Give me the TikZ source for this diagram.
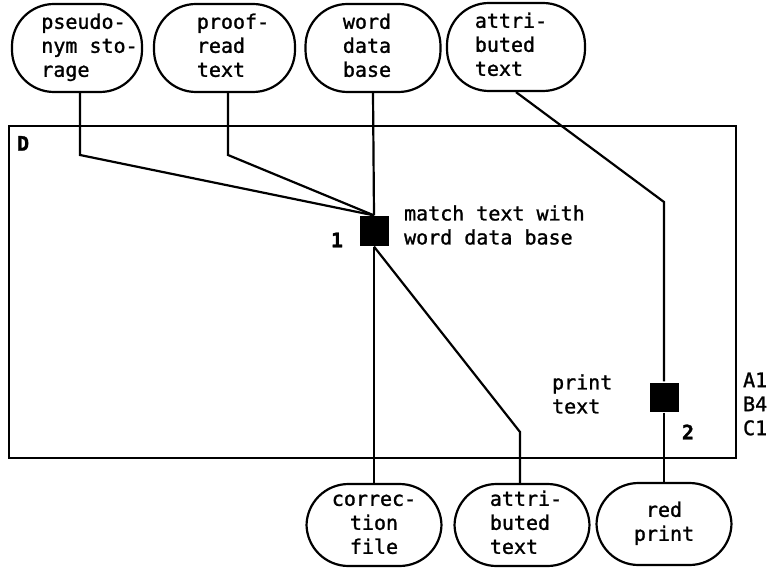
\documentclass[tikz,border=0pt]{standalone}
\usepackage{fontspec}
\setmonofont[FakeBold=1.3]{DejaVu Sans Mono}
\newcommand\stxt[2]{\hspace*{#1}\begin{tabular}{@{}l@{}}#2\end{tabular}}
\newcommand\ctxt[1]{\begin{tabular}{@{}c@{}}#1\end{tabular}}
\begin{document}
\begin{tikzpicture}[x=1bp,y=-1bp,line width=2.2bp,
  every node/.style={font=\ttfamily\fontsize{20bp}{24bp}\selectfont},
  store/.style={draw, rounded corners=42bp, minimum width=135bp, minimum height=88bp, inner sep=0pt},
  proc/.style={fill=black, minimum size=29bp, inner sep=0pt},
  lbl/.style={align=left, anchor=west, inner sep=0pt},
  bold/.style={font=\ttfamily\bfseries\fontsize{20bp}{24bp}\selectfont, inner sep=0pt}]
\useasboundingbox (0,0) rectangle (772,569);
% frame
\node[draw, minimum width=727bp, minimum height=332bp, anchor=north west, inner sep=0pt] (frame) at (8,125) {};
% stores top
\node[store, minimum width=130bp] (pseudo) at (77,48) {\stxt{25bp}{pseudo-\\nym sto-\\rage}};
\node[store, minimum width=141bp] (proof) at (224.5,48) {\stxt{17bp}{proof-\\read\\text}};
\node[store] (word) at (373,48) {\stxt{-12bp}{word\\data\\base}};
\node[store, minimum width=138bp] (attr1) at (516,47) {\stxt{-10bp}{attri-\\buted\\text}};
% stores bottom
\node[store, minimum height=82bp] (corr) at (374,525) {\ctxt{correc-\\tion\\file}};
\node[store, minimum height=82bp] (attr2) at (522,525) {\stxt{8bp}{attri-\\buted\\text}};
\node[store, minimum height=82bp] (red) at (664,524) {\ctxt{red\\print}};
% processes
\node[proc] (sq1) at (374,231) {};
\node[proc] (sq2) at (664,397) {};
% labels
\node[bold, anchor=north west] (D) at (16,135) {D};
\node[bold] (n1) at (337,240) {1};
\node[bold] (n2) at (688,432) {2};
\node[lbl] (t1) at (403,225) {match text with\\word data base};
\node[lbl] (t2) at (551,394) {print\\text};
\node[lbl] (t3) at (742,404) {A1\\B4\\C1};
% bends
\coordinate (b1) at (80,155);
\coordinate (b2) at (228,155);
\coordinate (b3) at (520,432);
\coordinate (b4) at (664,202);
% connectors
\draw (pseudo.south -| b1) -- (b1) -- (sq1.north);
\draw (proof.south -| b2) -- (b2) -- (sq1.north);
\draw (word.south) -- (sq1.north);
\draw (sq1.south) -- (corr.north);
\draw (sq1.south) -- (b3) -- (attr2.north -| b3);
\draw (attr1.south) -- (b4) -- (sq2.north);
\draw (sq2.south) -- (red.north);
\end{tikzpicture}
\end{document}
